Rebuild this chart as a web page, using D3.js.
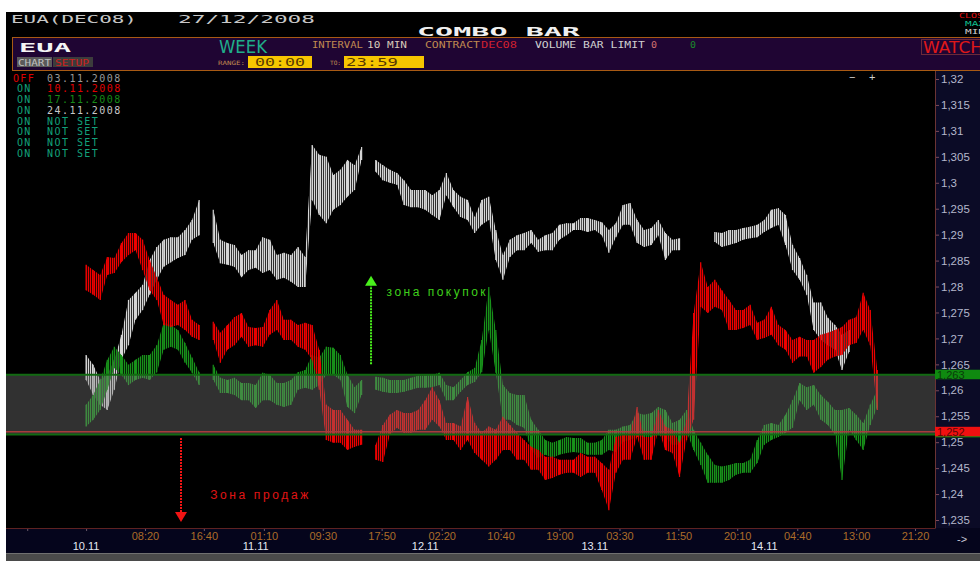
<!DOCTYPE html>
<html>
<head>
<meta charset="utf-8">
<script src="https://d3js.org/d3.v7.min.js"></script>
<style>
body { margin: 0; background: #fff; }
svg { display: block; font-family: "Liberation Sans", Arial, sans-serif; }
</style>
</head>
<body>
<div id="chart"></div>
<script>
// one sample every 60 minutes, minute 0 = 10.11 00:00
const step = 60;

const grayHi = [
  1.2668,1.2649,1.2620,1.2630,1.2659,1.2707,1.2774,1.2788,1.2803,1.2851,
  1.2876,1.2890,1.2895,1.2895,1.2909,1.2928,1.2967,null,1.2948,1.2890,
  1.2884,1.2880,1.2861,1.2870,1.2870,1.2895,1.2890,1.2861,1.2865,1.2861,
  1.2876,1.2857,1.3073,1.3054,1.3050,1.3015,1.3025,1.3044,1.3034,1.3069,
  null,1.3044,1.3034,1.3025,1.3019,1.3005,1.2986,1.2986,1.2986,1.2976,
  1.2986,1.3019,1.2986,1.2973,1.2967,1.2934,1.2967,1.2973,1.2909,1.2861,
  1.2890,1.2899,1.2903,1.2909,1.2890,1.2899,1.2903,1.2919,1.2922,1.2922,
  1.2932,1.2932,1.2928,1.2924,1.2909,1.2922,1.2957,1.2961,1.2928,1.2909,
  1.2913,1.2928,1.2903,1.2890,1.2893,null,null,null,null,1.2905,
  1.2903,1.2909,1.2909,1.2913,1.2915,1.2919,1.2928,1.2948,1.2951,1.2938,
  1.2880,1.2855,1.2822,1.2769,1.2769,1.2740,1.2726,1.2707,1.2716
];
const grayLo = [
  1.2620,1.2591,1.2572,1.2562,1.2601,1.2659,1.2687,1.2736,1.2755,1.2784,
  1.2813,1.2838,1.2847,1.2855,1.2861,1.2890,1.2899,null,1.2884,1.2845,
  1.2842,1.2838,1.2818,1.2832,1.2836,1.2826,1.2832,1.2813,1.2817,1.2809,
  1.2799,1.2799,1.2967,1.2938,1.2922,1.2948,1.2957,1.2973,1.2986,1.3044,
  null,1.3021,1.3005,1.3000,1.2996,1.2957,1.2953,1.2953,1.2948,1.2938,
  1.2928,1.2976,1.2953,1.2934,1.2928,1.2903,1.2919,1.2928,1.2851,1.2813,
  1.2857,1.2870,1.2870,1.2884,1.2867,1.2870,1.2870,1.2890,1.2899,1.2909,
  1.2909,1.2905,1.2909,1.2899,1.2865,1.2895,1.2919,1.2919,1.2884,1.2876,
  1.2880,1.2899,1.2851,1.2870,1.2870,null,null,null,null,1.2886,
  1.2876,1.2880,1.2884,1.2890,1.2893,1.2895,1.2905,1.2913,1.2919,1.2880,
  1.2832,1.2813,1.2784,1.2716,1.2697,1.2687,1.2678,1.2639,1.2674
];

const redHi = [
  1.2842,1.2832,1.2822,1.2857,1.2855,1.2884,1.2903,1.2903,1.2890,1.2851,
  1.2818,1.2784,1.2774,1.2765,1.2774,1.2736,1.2726,null,1.2732,1.2711,
  1.2726,1.2741,1.2749,1.2722,1.2720,1.2722,1.2755,1.2774,1.2736,1.2736,
  1.2726,1.2730,1.2726,1.2678,1.2572,1.2562,1.2562,1.2543,1.2524,1.2524,
  null,1.2495,1.2533,1.2553,1.2562,1.2556,1.2556,1.2562,1.2581,1.2606,
  1.2581,1.2537,1.2537,1.2530,1.2587,1.2537,1.2518,1.2530,1.2524,1.2549,
  1.2533,1.2518,1.2504,1.2491,1.2485,1.2472,1.2472,1.2466,1.2466,1.2466,
  1.2479,1.2472,1.2472,1.2460,1.2447,1.2510,1.2514,1.2518,1.2568,1.2510,
  1.2510,1.2562,1.2530,1.2524,1.2499,1.2543,1.2749,1.2847,1.2799,1.2813,
  1.2793,1.2774,1.2755,1.2755,1.2765,1.2730,1.2736,1.2761,1.2726,1.2716,
  1.2697,1.2703,1.2697,1.2697,1.2707,1.2711,1.2716,1.2722,1.2736,1.2741,
  1.2788,1.2755,1.2639
];
const redLo = [
  1.2793,1.2784,1.2774,1.2822,1.2826,1.2847,1.2861,1.2870,1.2832,1.2793,
  1.2774,1.2726,1.2722,1.2726,1.2716,1.2703,1.2697,null,1.2697,1.2653,
  1.2678,1.2687,1.2703,1.2684,1.2687,1.2684,1.2707,1.2716,1.2697,1.2697,
  1.2684,1.2678,1.2659,1.2601,1.2504,1.2499,1.2499,1.2485,1.2491,1.2495,
  null,1.2466,1.2462,1.2514,1.2528,1.2518,1.2518,1.2524,1.2524,1.2543,
  1.2530,1.2504,1.2504,1.2485,1.2504,1.2479,1.2466,1.2453,1.2466,1.2485,
  1.2485,1.2466,1.2466,1.2447,1.2447,1.2427,1.2431,1.2437,1.2441,1.2441,
  1.2433,1.2441,1.2441,1.2408,1.2369,1.2441,1.2466,1.2466,1.2510,1.2466,
  1.2466,1.2524,1.2485,1.2479,1.2433,1.2504,1.2543,1.2761,1.2749,1.2761,
  1.2755,1.2716,1.2716,1.2720,1.2726,1.2697,1.2701,1.2707,1.2687,1.2678,
  1.2653,1.2665,1.2665,1.2634,1.2645,1.2659,1.2665,1.2668,1.2687,1.2691,
  1.2716,1.2687,1.2562
];

const greenHi = [
  1.2572,1.2591,1.2620,1.2659,1.2684,1.2668,1.2649,1.2659,1.2668,1.2668,
  1.2687,1.2730,1.2726,1.2716,1.2691,1.2663,1.2635,null,1.2649,1.2624,
  1.2620,1.2624,1.2614,1.2614,1.2610,1.2634,1.2630,1.2614,1.2614,1.2620,
  1.2635,1.2639,1.2668,1.2663,1.2684,1.2682,1.2668,1.2630,1.2606,1.2620,
  null,1.2626,1.2624,1.2620,1.2620,1.2620,1.2624,1.2628,1.2628,1.2630,
  1.2634,1.2610,1.2606,1.2620,1.2635,1.2643,1.2697,1.2799,1.2716,1.2610,
  1.2595,1.2591,1.2591,1.2543,1.2524,1.2504,1.2499,1.2504,1.2510,1.2508,
  1.2508,1.2499,1.2499,1.2504,1.2524,1.2524,1.2530,1.2533,1.2556,1.2553,
  1.2556,1.2568,1.2562,1.2537,1.2543,1.2562,1.2524,1.2499,1.2476,1.2456,
  1.2453,1.2456,1.2460,1.2460,1.2466,1.2504,1.2533,1.2537,1.2533,1.2553,
  1.2581,1.2614,1.2606,1.2610,1.2591,1.2578,1.2562,1.2562,1.2566,1.2553,
  1.2537,1.2572,1.2601
];
const greenLo = [
  1.2530,1.2543,1.2562,1.2601,1.2643,1.2630,1.2610,1.2620,1.2624,1.2620,
  1.2635,1.2678,1.2684,1.2678,1.2653,1.2634,1.2610,null,1.2620,1.2595,
  1.2595,1.2591,1.2581,1.2581,1.2566,1.2581,1.2581,1.2572,1.2568,1.2572,
  1.2601,1.2605,1.2601,1.2610,1.2630,1.2630,1.2620,1.2568,1.2556,1.2591,
  null,1.2601,1.2597,1.2595,1.2595,1.2597,1.2601,1.2605,1.2605,1.2606,
  1.2610,1.2581,1.2581,1.2597,1.2610,1.2616,1.2635,1.2716,1.2634,1.2543,
  1.2543,1.2533,1.2528,1.2485,1.2470,1.2476,1.2470,1.2476,1.2479,1.2481,
  1.2479,1.2476,1.2476,1.2476,1.2485,1.2481,1.2501,1.2504,1.2510,1.2510,
  1.2510,1.2514,1.2510,1.2495,1.2495,1.2520,1.2485,1.2456,1.2422,1.2422,
  1.2422,1.2427,1.2437,1.2441,1.2441,1.2460,1.2495,1.2504,1.2510,1.2518,
  1.2528,1.2581,1.2562,1.2572,1.2543,1.2533,1.2514,1.2427,1.2524,1.2504,
  1.2485,1.2533,1.2568
];

// axes
const timeTicks = [-500, 0, 500, 1000, 1510, 2010, 2510, 3020, 3520, 4020, 4530, 5030, 5530, 6040, 6540, 7040];
const timeLabels = ['', '', '08:20', '16:40', '01:10', '09:30', '17:50', '02:20', '10:40', '19:00', '03:30', '11:50', '20:10', '04:40', '13:00', '21:20'];
const dayStarts = [0, 1440, 2880, 4320, 5760];
const dayLabels = ['10.11', '11.11', '12.11', '13.11', '14.11'];
const priceTicks = [1.235, 1.24, 1.245, 1.25, 1.255, 1.26, 1.265, 1.27, 1.275, 1.28, 1.285, 1.29, 1.295, 1.3, 1.305, 1.31, 1.315, 1.32];
const priceLabels = ['1,235', '1,24', '1,245', '1,25', '1,255', '1,26', '1,265', '1,27', '1,275', '1,28', '1,285', '1,29', '1,295', '1,3', '1,305', '1,31', '1,315', '1,32'];

// levels
const bandTop = 1.263;
const bandBottom = 1.2515;
const redLevel = 1.252;

// legend
const legendState = ['OFF', 'ON', 'ON', 'ON', 'ON', 'ON', 'ON', 'ON'];
const legendText = ['03.11.2008', '10.11.2008', '17.11.2008', '24.11.2008', 'NOT SET', 'NOT SET', 'NOT SET', 'NOT SET'];
const legendColor = ['#9a9a9a', '#e00000', '#178a17', '#c8c8c8', '#12a07a', '#12a07a', '#12a07a', '#12a07a'];

const svg = d3.select('#chart').append('svg')
    .attr('width', 980)
    .attr('height', 561);

const defs = svg.append('defs');

svg.append('rect').attr('width', 980).attr('height', 561).attr('fill', '#fff');
svg.append('rect').attr('x', 6).attr('y', 12).attr('width', 974).attr('height', 549).attr('fill', '#000');

const x = d3.scaleLinear().domain([0, 7040]).range([86.1, 915]);
const y = d3.scaleLinear().domain([1.235, 1.32]).range([520, 79]);

// ---- header ----
const mono = 'DejaVu Sans Mono, monospace';
function stretched(txt, x0, y0, len, size, color, weight) {
    svg.append('text')
        .attr('x', x0).attr('y', y0)
        .attr('textLength', len).attr('lengthAdjust', 'spacingAndGlyphs')
        .style('font-family', mono).style('font-size', size + 'px')
        .style('font-weight', weight || 'normal')
        .attr('fill', color).text(txt);
}
stretched('EUA(DEC08)', 11, 23, 126, 10, '#c8c8c8');
stretched('27/12/2008', 178, 23, 137, 10, '#c8c8c8');
stretched('COMBO  BAR', 417, 36, 163, 12, '#f0f0f0', 'bold');
stretched('CLOS', 959, 18, 24, 7, '#e01010');
stretched('MAX', 965, 26, 20, 7, '#10c090');
stretched('MIN', 965, 34, 20, 7, '#d0d0d0');

svg.append('rect').attr('x', 12.5).attr('y', 37.5).attr('width', 980).attr('height', 33)
    .attr('fill', '#1f0533').attr('stroke', '#a85a14');
stretched('EUA', 19, 52, 52, 13, '#f4f4f4', 'bold');
svg.append('rect').attr('x', 17).attr('y', 57).attr('width', 35).attr('height', 10).attr('fill', '#5a5a5a');
svg.append('rect').attr('x', 53).attr('y', 57).attr('width', 40).attr('height', 10).attr('fill', '#3c3c3c');
stretched('CHART', 18, 66, 33, 9, '#c0c0c0');
stretched('SETUP', 55, 66, 34, 9, '#d02020');

svg.append('text').attr('x', 219).attr('y', 53).attr('textLength', 48).attr('lengthAdjust', 'spacingAndGlyphs')
    .style('font-family', 'DejaVu Sans, sans-serif').style('font-size', '17px')
    .attr('fill', '#1fae8a').text('WEEK');
stretched('INTERVAL', 312, 48, 51, 9, '#c08a50');
stretched('10 MIN', 367, 48, 40, 9, '#d8c8b8');
stretched('CONTRACT', 425, 48, 55, 9, '#c08a50');
stretched('DEC08', 481, 48, 36, 9, '#d02030');
stretched('VOLUME BAR LIMIT', 535, 48, 110, 9, '#d0d0d0');
stretched('0', 651, 48, 6, 9, '#d07070');
stretched('0', 690, 48, 6, 9, '#1a8a2a');
stretched('RANGE:', 218, 65, 27, 6, '#c08a50');
svg.append('rect').attr('x', 248).attr('y', 56).attr('width', 64).attr('height', 12).attr('fill', '#f7c600');
stretched('00:00', 255, 66, 50, 11, '#5a3a00');
stretched('TO:', 330, 65, 11, 6, '#c08a50');
svg.append('rect').attr('x', 344).attr('y', 56).attr('width', 80).attr('height', 12).attr('fill', '#f7c600');
stretched('23:59', 346, 66, 52, 11, '#5a3a00');
svg.append('rect').attr('x', 921.5).attr('y', 39.5).attr('width', 70).attr('height', 15)
    .attr('fill', 'none').attr('stroke', '#6a2a3a');
svg.append('text').attr('x', 923).attr('y', 53).attr('textLength', 60).attr('lengthAdjust', 'spacingAndGlyphs')
    .style('font-family', 'DejaVu Sans, sans-serif').style('font-size', '16px')
    .attr('fill', '#e01818').text('WATCH');

// ---- panels ----
svg.append('rect').attr('x', 935).attr('y', 71).attr('width', 45).attr('height', 457).attr('fill', '#0b0b26');
svg.append('rect').attr('x', 6).attr('y', 528).attr('width', 974).attr('height', 25).attr('fill', '#05051c');
svg.append('rect').attr('x', 6).attr('y', 553).attr('width', 974).attr('height', 8).attr('fill', '#4a4a4a');
svg.append('line').attr('x1', 6).attr('x2', 980).attr('y1', 553.5).attr('y2', 553.5).attr('stroke', '#707070');

// ---- series ----
const plot = svg.append('g');

function drawSeries(hi, lo, color, id) {
    const data = hi.map((h, i) => h == null ? null : { t: i * step, hi: h, lo: lo[i] });

    // thin vertical stripes so the ribbon reads as a cluster of bars
    const pat = defs.append('pattern').attr('id', id)
        .attr('patternUnits', 'userSpaceOnUse').attr('width', 2).attr('height', 2);
    pat.append('rect').attr('width', 1).attr('height', 2).attr('fill', color);
    pat.append('rect').attr('x', 1).attr('width', 1).attr('height', 2).attr('fill', color).attr('opacity', 0.22);

    const area = d3.area()
        .defined(d => d != null)
        .x(d => x(d.t))
        .y0(d => y(d.lo))
        .y1(d => y(d.hi));

    plot.append('path').datum(data)
        .attr('d', area)
        .attr('fill', `url(#${id})`);

    plot.selectAll(null)
        .data(data.filter(d => d != null))
        .enter().append('line')
        .attr('x1', d => x(d.t)).attr('x2', d => x(d.t))
        .attr('y1', d => y(d.hi)).attr('y2', d => y(d.lo))
        .attr('stroke', color).attr('stroke-width', 1.2);
}

drawSeries(grayHi, grayLo, '#d6d6d6', 'patGray');
drawSeries(greenHi, greenLo, '#18921a', 'patGreen');
drawSeries(redHi, redLo, '#ee0000', 'patRed');

// ---- band ----
plot.append('rect')
    .attr('x', 6).attr('width', 929)
    .attr('y', y(bandTop)).attr('height', y(bandBottom) - y(bandTop))
    .attr('fill', 'rgb(128,128,128)').attr('opacity', 0.38);
[bandTop, bandBottom].forEach(v => {
    plot.append('line').attr('x1', 6).attr('x2', 935).attr('y1', y(v)).attr('y2', y(v))
        .attr('stroke', '#126a12').attr('stroke-width', 2);
});
plot.append('line').attr('x1', 6).attr('x2', 935).attr('y1', y(redLevel)).attr('y2', y(redLevel))
    .attr('stroke', '#a83c3c').attr('stroke-width', 1.5);

// ---- arrows & zone labels ----
const buyArrow = { t: 2420, from: 1.2650, to: 1.2821 };
const sellArrow = { t: 806, from: 1.2508, to: 1.2346 };

function arrow(a, color) {
    const dir = a.to > a.from ? 1 : -1;
    const tipY = y(a.to);
    const baseY = tipY + dir * 10;
    plot.append('line')
        .attr('x1', x(a.t)).attr('x2', x(a.t))
        .attr('y1', y(a.from)).attr('y2', baseY)
        .attr('stroke', color).attr('stroke-width', 2).attr('stroke-dasharray', '2,1');
    plot.append('path')
        .attr('d', `M${x(a.t)},${tipY} L${x(a.t) - 6},${baseY} L${x(a.t) + 6},${baseY} Z`)
        .attr('fill', color);
}
arrow(buyArrow, '#49f01c');
arrow(sellArrow, '#f01414');

plot.append('text').attr('x', x(2552)).attr('y', y(1.2781))
    .attr('textLength', 99).attr('lengthAdjust', 'spacing')
    .style('font-size', '12px').attr('fill', '#3fd01c').text('зона покупок');
plot.append('text').attr('x', x(1054)).attr('y', y(1.2390))
    .attr('textLength', 98).attr('lengthAdjust', 'spacing')
    .style('font-size', '12px').attr('fill', '#e01414').text('Зона продаж');

// ---- legend ----
legendState.forEach((s, i) => {
    svg.append('text').attr('x', s === 'OFF' ? 13 : 17).attr('y', 81.5 + i * 10.75)
        .style('font-family', mono).style('font-size', '10px').style('letter-spacing', '1.3px')
        .attr('fill', s === 'OFF' ? '#e00000' : '#12a07a').text(s);
    svg.append('text').attr('x', 47).attr('y', 81.5 + i * 10.75)
        .style('font-family', mono).style('font-size', '10px').style('letter-spacing', '1.45px')
        .attr('fill', legendColor[i]).text(legendText[i]);
});
svg.append('text').attr('x', 849).attr('y', 81).style('font-size', '11px').attr('fill', '#d0d0d0').text('−');
svg.append('text').attr('x', 869).attr('y', 81).style('font-size', '11px').attr('fill', '#d0d0d0').text('+');

// ---- right axis ----
const yAxis = svg.append('g')
    .attr('transform', 'translate(935,0)')
    .call(d3.axisRight(y).tickValues(priceTicks).tickSize(4).tickPadding(2)
        .tickFormat((d, i) => priceLabels[i]));
yAxis.select('.domain').remove();
yAxis.selectAll('line').attr('stroke', '#7a4a5a');
yAxis.selectAll('text').attr('fill', '#b4b8cc').style('font-size', '11.5px')
    .style('font-family', '"Liberation Sans", Arial, sans-serif');
svg.append('line').attr('x1', 935.5).attr('x2', 935.5).attr('y1', 71).attr('y2', 528.5)
    .attr('stroke', '#6b3434');

// level tags on the axis (the lower green one sits under the red tag)
svg.append('rect').attr('x', 935).attr('y', y(bandBottom) - 4).attr('width', 45).attr('height', 7).attr('fill', '#0f8a10');
function levelTag(v, bg, fg, txt) {
    svg.append('rect').attr('x', 935).attr('y', y(v) - 5).attr('width', 45).attr('height', 9.5).attr('fill', bg);
    svg.append('text').attr('x', 937).attr('y', y(v) + 4).style('font-size', '11px').attr('fill', fg).text(txt);
}
levelTag(bandTop, '#0f8a10', '#0a3a0a', '1,263');
levelTag(redLevel, '#f01010', '#5a0808', '1,252');

// ---- bottom axis ----
const xAxis = svg.append('g')
    .attr('transform', 'translate(0,528)')
    .call(d3.axisBottom(x).tickValues(timeTicks).tickSize(3).tickPadding(1)
        .tickFormat((d, i) => timeLabels[i]));
xAxis.select('.domain').remove();
xAxis.selectAll('line').attr('stroke', '#6a5a6a');
xAxis.selectAll('text').attr('fill', '#ac6c28').style('font-size', '11px')
    .style('font-family', '"Liberation Sans", Arial, sans-serif');
svg.append('line').attr('x1', 6).attr('x2', 935).attr('y1', 528.5).attr('y2', 528.5).attr('stroke', '#5e2222');

svg.selectAll('.day')
    .data(dayStarts)
    .enter().append('text')
    .attr('class', 'day')
    .attr('x', d => x(d)).attr('y', 550)
    .attr('text-anchor', 'middle')
    .style('font-size', '11px').attr('fill', '#e4e8f4')
    .text((d, i) => dayLabels[i]);

svg.append('text').attr('x', 957).attr('y', 543).style('font-size', '11px').attr('fill', '#c8c8d8').text('->');
</script>
</body>
</html>
